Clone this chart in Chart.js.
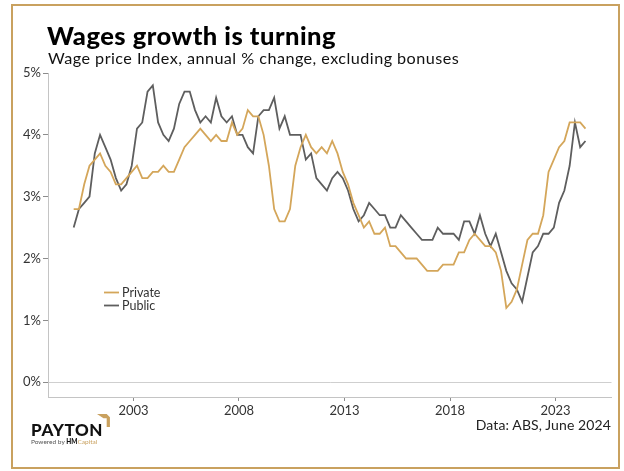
<!DOCTYPE html>
<html>
<head>
<meta charset="utf-8">
<script src="https://cdn.jsdelivr.net/npm/chart.js@4"></script>
<style>
  html, body { margin: 0; padding: 0; background: #ffffff; }
  #wrap { position: relative; width: 624px; height: 471px; overflow: hidden; background: #ffffff; font-family: "Lato", "DejaVu Sans", sans-serif; }
  #frame { position: absolute; left: 11px; top: 4px; width: 605px; height: 461px; border: 2px solid #c9a15f; box-sizing: content-box; }
  #chart { position: absolute; left: 0; top: 0; }
  .txt { position: absolute; white-space: nowrap; line-height: 1; }
  #title { left: 47px; top: 23px; font-size: 25.5px; font-weight: 900; color: #000; letter-spacing: 0.5px; }
  #subtitle { left: 48px; top: 50px; font-size: 16.2px; color: #111; letter-spacing: 0.45px; }
  #source { right: 13px; top: 418px; font-size: 14px; color: #222; letter-spacing: 0.1px; }
  #brand { left: 31px; top: 421px; font-size: 17px; font-weight: 900; color: #111; letter-spacing: 0.6px; }
  #powered { left: 31px; top: 439px; font-size: 6.5px; color: #555; }
  #powered b { color: #111; font-weight: 900; }
  #powered span { color: #c9a15f; }
  #mark { position: absolute; left: 97px; top: 414px; }
</style>
</head>
<body>
<div id="wrap">
  <canvas id="chart" width="624" height="471"></canvas>
  <div id="frame"></div>
  <div id="title" class="txt">Wages growth is turning</div>
  <div id="subtitle" class="txt">Wage price Index, annual % change, excluding bonuses</div>
  <div id="source" class="txt">Data: ABS, June 2024</div>
  <div id="brand" class="txt">PAYTON</div>
  <svg id="mark" width="14" height="14" viewBox="0 0 13 13">
    <polygon points="0,0 9,0 12,3 12,12 9,12 9,4 6,4" fill="#c9a15f"/>
  </svg>
  <div id="powered" class="txt">Powered by <b>HM</b><span>Capital</span></div>
</div>
<script>
// Quarter-end months of the Wage Price Index series
const quarters = [
  "2000-03","2000-06","2000-09","2000-12",
  "2001-03","2001-06","2001-09","2001-12",
  "2002-03","2002-06","2002-09","2002-12",
  "2003-03","2003-06","2003-09","2003-12",
  "2004-03","2004-06","2004-09","2004-12",
  "2005-03","2005-06","2005-09","2005-12",
  "2006-03","2006-06","2006-09","2006-12",
  "2007-03","2007-06","2007-09","2007-12",
  "2008-03","2008-06","2008-09","2008-12",
  "2009-03","2009-06","2009-09","2009-12",
  "2010-03","2010-06","2010-09","2010-12",
  "2011-03","2011-06","2011-09","2011-12",
  "2012-03","2012-06","2012-09","2012-12",
  "2013-03","2013-06","2013-09","2013-12",
  "2014-03","2014-06","2014-09","2014-12",
  "2015-03","2015-06","2015-09","2015-12",
  "2016-03","2016-06","2016-09","2016-12",
  "2017-03","2017-06","2017-09","2017-12",
  "2018-03","2018-06","2018-09","2018-12",
  "2019-03","2019-06","2019-09","2019-12",
  "2020-03","2020-06","2020-09","2020-12",
  "2021-03","2021-06","2021-09","2021-12",
  "2022-03","2022-06","2022-09","2022-12",
  "2023-03","2023-06","2023-09","2023-12",
  "2024-03","2024-06"
];

// Annual % change, excluding bonuses
const privateSector = [
  2.8, 2.8, 3.2, 3.5,
  3.6, 3.7, 3.5, 3.4,
  3.2, 3.2, 3.3, 3.4,
  3.5, 3.3, 3.3, 3.4,
  3.4, 3.5, 3.4, 3.4,
  3.6, 3.8, 3.9, 4.0,
  4.1, 4.0, 3.9, 4.0,
  3.9, 3.9, 4.2, 4.0,
  4.1, 4.4, 4.3, 4.3,
  4.0, 3.5, 2.8, 2.6,
  2.6, 2.8, 3.5, 3.8,
  4.0, 3.8, 3.7, 3.8,
  3.7, 3.9, 3.7, 3.4,
  3.2, 2.9, 2.7, 2.5,
  2.6, 2.4, 2.4, 2.5,
  2.2, 2.2, 2.1, 2.0,
  2.0, 2.0, 1.9, 1.8,
  1.8, 1.8, 1.9, 1.9,
  1.9, 2.1, 2.1, 2.3,
  2.4, 2.3, 2.2, 2.2,
  2.1, 1.8, 1.2, 1.3,
  1.5, 1.9, 2.3, 2.4,
  2.4, 2.7, 3.4, 3.6,
  3.8, 3.9, 4.2, 4.2,
  4.2, 4.1
];

const publicSector = [
  2.5, 2.8, 2.9, 3.0,
  3.7, 4.0, 3.8, 3.6,
  3.3, 3.1, 3.2, 3.5,
  4.1, 4.2, 4.7, 4.8,
  4.2, 4.0, 3.9, 4.1,
  4.5, 4.7, 4.7, 4.4,
  4.2, 4.3, 4.2, 4.6,
  4.3, 4.2, 4.3, 4.0,
  4.0, 3.8, 3.7, 4.3,
  4.4, 4.4, 4.6, 4.1,
  4.3, 4.0, 4.0, 4.0,
  3.6, 3.7, 3.3, 3.2,
  3.1, 3.3, 3.4, 3.3,
  3.1, 2.8, 2.6, 2.7,
  2.9, 2.8, 2.7, 2.7,
  2.5, 2.5, 2.7, 2.6,
  2.5, 2.4, 2.3, 2.3,
  2.3, 2.5, 2.4, 2.4,
  2.4, 2.3, 2.6, 2.6,
  2.4, 2.7, 2.4, 2.2,
  2.4, 2.1, 1.8, 1.6,
  1.5, 1.3, 1.7, 2.1,
  2.2, 2.4, 2.4, 2.5,
  2.9, 3.1, 3.5, 4.2,
  3.8, 3.9
];

const seriesNames = ["Private", "Public"];
const seriesColors = ["#d4a65a", "#5e5e5e"];
const xTickYears = [2003, 2008, 2013, 2018, 2023];
const yTickValues = [0, 1, 2, 3, 4, 5];

// Place each quarter at the start of its final month on a decimal-year axis
function quarterToYear(q) {
  const [y, m] = q.split("-").map(Number);
  return y + (m - 1) / 12;
}
function toPoints(values) {
  return values.map((v, i) => ({ x: quarterToYear(quarters[i]), y: v }));
}

const FONT = '"Lato", "DejaVu Sans", sans-serif';

// Small two-row legend drawn inside the plot area
const insideLegend = {
  id: "insideLegend",
  afterDatasetsDraw(chart) {
    const ctx = chart.ctx;
    ctx.save();
    chart.data.datasets.forEach((ds, i) => {
      const y = 292.5 + i * 13;
      ctx.strokeStyle = ds.borderColor;
      ctx.lineWidth = 1.8;
      ctx.beginPath();
      ctx.moveTo(104, y);
      ctx.lineTo(119, y);
      ctx.stroke();
      ctx.fillStyle = "#333";
      ctx.font = "12.5px " + FONT;
      ctx.textBaseline = "middle";
      ctx.textAlign = "left";
      ctx.fillText(ds.label, 122, y + 0.5);
    });
    ctx.restore();
  }
};

new Chart(document.getElementById("chart"), {
  type: "line",
  data: {
    datasets: [
      { label: seriesNames[0], data: toPoints(privateSector), borderColor: seriesColors[0], borderWidth: 1.8, pointRadius: 0, tension: 0 },
      { label: seriesNames[1], data: toPoints(publicSector), borderColor: seriesColors[1], borderWidth: 1.8, pointRadius: 0, tension: 0 }
    ]
  },
  options: {
    responsive: false,
    animation: false,
    devicePixelRatio: 1,
    layout: { padding: { top: 73, right: 12.5, left: 0, bottom: 0 } },
    plugins: { legend: { display: false }, tooltip: { enabled: false }, title: { display: false } },
    scales: {
      x: {
        type: "linear",
        min: 1998.95,
        max: 2025.65,
        afterFit(scale) { scale.height = 74; },
        afterBuildTicks(scale) { scale.ticks = xTickYears.map(v => ({ value: v })); },
        ticks: { color: "#333", font: { family: FONT, size: 13 }, padding: 2, maxRotation: 0, autoSkip: false, callback: v => String(v) },
        grid: { drawOnChartArea: false, drawTicks: true, tickLength: 4, tickColor: "#8c8c8c" },
        border: { color: "#c4c4c4", width: 1 }
      },
      y: {
        min: -0.24,
        max: 5,
        afterFit(scale) { scale.width = 48; },
        afterBuildTicks(scale) { scale.ticks = yTickValues.map(v => ({ value: v })); },
        ticks: { color: "#333", font: { family: FONT, size: 13 }, padding: 2, callback: v => v + "%" },
        grid: {
          drawTicks: true,
          tickLength: 5,
          tickColor: "#8c8c8c",
          color: ctx => (ctx.tick && ctx.tick.value === 0 ? "#cfcfcf" : "rgba(0,0,0,0)"),
          lineWidth: 1
        },
        border: { color: "#c4c4c4", width: 1 }
      }
    }
  },
  plugins: [insideLegend]
});
</script>
</body>
</html>
